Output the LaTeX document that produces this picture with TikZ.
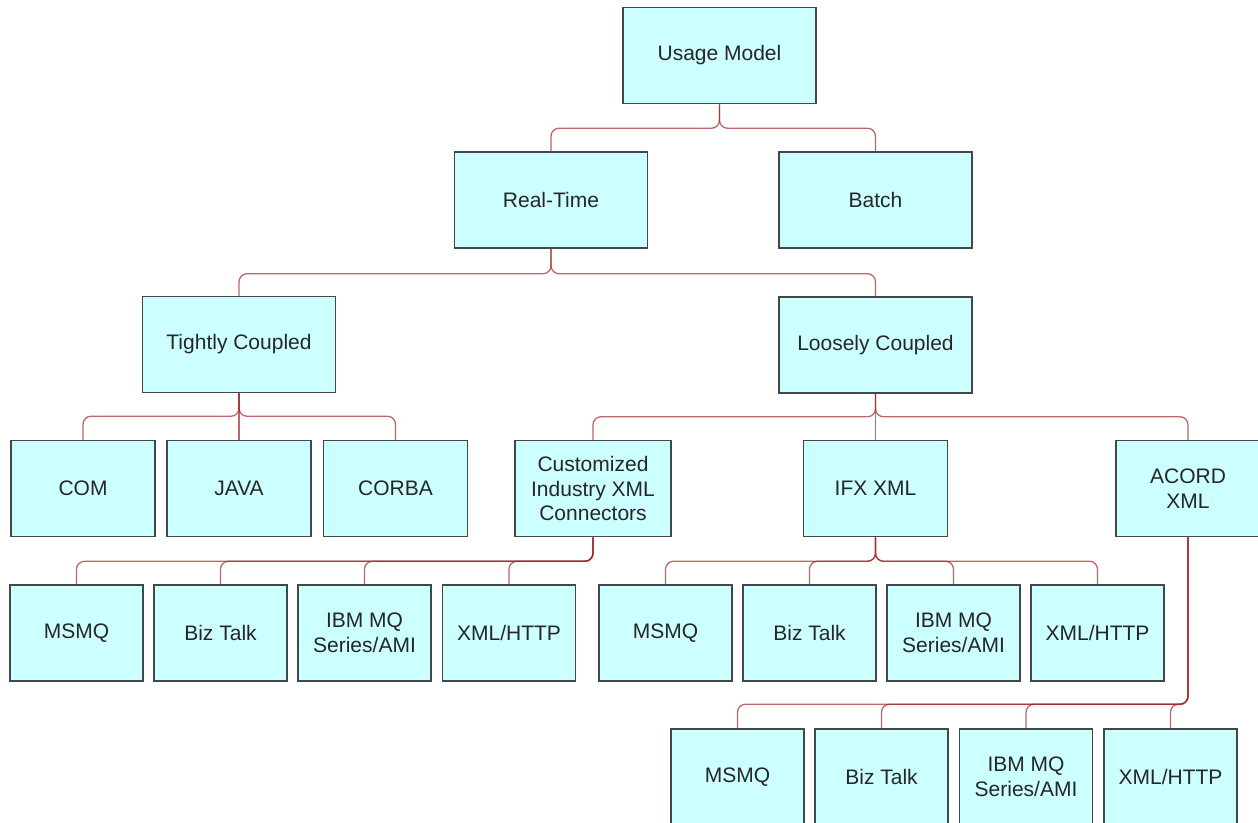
\documentclass[tikz,border=0pt]{standalone}
\usepackage{fontspec}
\setmainfont{Liberation Sans}
\usetikzlibrary{positioning}
\definecolor{boxfill}{RGB}{204,255,255}
\definecolor{boxline}{RGB}{64,72,72}
\definecolor{linkred}{RGB}{160,40,40}

\begin{document}
\begin{tikzpicture}[x=1pt,y=-1pt,
	box/.style={draw=boxline,fill=boxfill,line width=1.5pt,inner sep=0pt,align=center,
		text=black!85,font=\fontsize{21}{24.5}\selectfont,minimum height=96pt},
	wide/.style={box,minimum width=193pt},
	mid/.style={box,minimum width=144pt},
	small/.style={box,minimum width=133pt},
	link/.style={draw=linkred,draw opacity=0.7,line width=1.3pt,rounded corners=8pt}]
	\useasboundingbox (0,0) rectangle (1258,822);

	% top levels
	\node[wide] (usage) at (719.5,55.5) {Usage Model};
	\node[wide] (realtime) at (551,200) {Real-Time};
	\node[wide] (batch) at (875.5,200) {Batch};
	\node[wide] (tight) at (239,344.5) {Tightly Coupled};
	\node[wide] (loose) at (875.5,345) {Loosely Coupled};

	% tightly coupled
	\node[mid] (com) at (83,488.5) {COM};
	\node[mid] (java) at (239,488.5) {JAVA};
	\node[mid] (corba) at (395.5,488.5) {CORBA};

	% loosely coupled
	\node[mid,minimum width=156pt] (cust) at (593,488.5) {Customized\\Industry XML\\Connectors};
	\node[mid] (ifx) at (875.5,488.5) {IFX XML};
	\node[mid] (acord) at (1188,488.5) {ACORD\\XML};

	% transports under each standard
	\node[small] (custmsmq) at (76.5,633) {MSMQ};
	\node[small] (custbiz) at (220.5,633) {Biz Talk};
	\node[small] (custibm) at (364.5,633) {IBM MQ\\Series/AMI};
	\node[small] (custhttp) at (509,633) {XML/HTTP};

	\node[small] (ifxmsmq) at (665.5,633) {MSMQ};
	\node[small] (ifxbiz) at (809.5,633) {Biz Talk};
	\node[small] (ifxibm) at (953.5,633) {IBM MQ\\Series/AMI};
	\node[small] (ifxhttp) at (1097.5,633) {XML/HTTP};

	\node[small] (acordmsmq) at (737.5,777) {MSMQ};
	\node[small] (acordbiz) at (881.5,777) {Biz Talk};
	\node[small] (acordibm) at (1026,777) {IBM MQ\\Series/AMI};
	\node[small] (acordhttp) at (1170.5,777) {XML/HTTP};

	% connectors
	\foreach \c in {realtime,batch}
		\draw[link] (usage.south) -- ++(0,24) -| (\c.north);
	\foreach \c in {tight,loose}
		\draw[link] (realtime.south) -- ++(0,25) -| (\c.north);
	\foreach \c in {com,corba}
		\draw[link] (tight.south) -- ++(0,23) -| (\c.north);
	\draw[link] (tight.south) -- (java.north);
	\foreach \c in {cust,acord}
		\draw[link] (loose.south) -- ++(0,23) -| (\c.north);
	\draw[link] (loose.south) -- (ifx.north);
	\foreach \c in {custmsmq,custbiz,custibm,custhttp}
		\draw[link] (cust.south) -- ++(0,24) -| (\c.north);
	\foreach \c in {ifxmsmq,ifxbiz,ifxibm,ifxhttp}
		\draw[link] (ifx.south) -- ++(0,24) -| (\c.north);
	\foreach \c in {acordmsmq,acordbiz,acordibm,acordhttp}
		\draw[link] (acord.south) -- ++(0,167) -| (\c.north);
\end{tikzpicture}
\end{document}
